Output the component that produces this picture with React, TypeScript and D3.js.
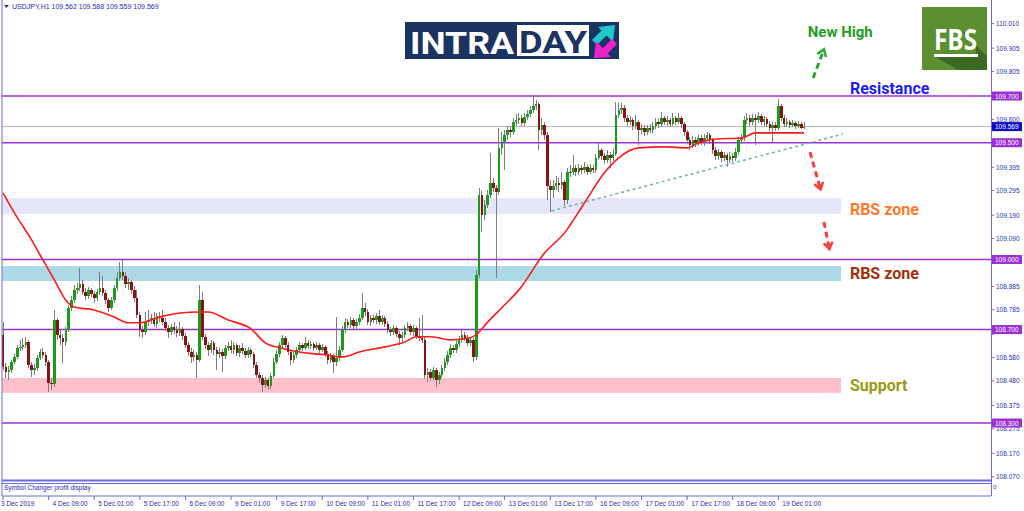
import React from "react";
import * as d3 from "d3";

const W = 1024;
const H = 511;

// USDJPY H1, 3 Dec 17:00 .. 19 Dec 10:00 (open of each bar = close of previous bar)
const firstOpen = 108.678;
const closes = [
  108.540, 108.518, 108.527, 108.561, 108.583, 108.622, 108.626, 108.635, 108.647, 108.549, 108.527, 108.536, 108.579, 108.604, 108.592, 108.561,
  108.472, 108.468, 108.741, 108.678, 108.665, 108.647, 108.699, 108.793, 108.827, 108.870, 108.878, 108.896, 108.861, 108.844, 108.870, 108.853,
  108.836, 108.861, 108.878, 108.857, 108.827, 108.793, 108.827, 108.878, 108.921, 108.947, 108.930, 108.896, 108.904, 108.870, 108.836, 108.763,
  108.699, 108.690, 108.732, 108.741, 108.750, 108.724, 108.758, 108.750, 108.732, 108.707, 108.690, 108.711, 108.699, 108.686, 108.703, 108.673,
  108.635, 108.604, 108.583, 108.592, 108.570, 108.827, 108.669, 108.635, 108.613, 108.643, 108.613, 108.596, 108.604, 108.587, 108.622, 108.630,
  108.613, 108.635, 108.600, 108.622, 108.609, 108.592, 108.613, 108.596, 108.549, 108.506, 108.493, 108.463, 108.485, 108.459, 108.502, 108.561,
  108.596, 108.635, 108.665, 108.635, 108.604, 108.570, 108.592, 108.613, 108.635, 108.622, 108.643, 108.630, 108.639, 108.622, 108.635, 108.613,
  108.626, 108.596, 108.570, 108.587, 108.561, 108.579, 108.613, 108.699, 108.732, 108.720, 108.741, 108.716, 108.732, 108.750, 108.793, 108.775,
  108.732, 108.750, 108.741, 108.758, 108.732, 108.750, 108.724, 108.699, 108.690, 108.707, 108.682, 108.665, 108.678, 108.707, 108.716, 108.690,
  108.707, 108.673, 108.665, 108.656, 108.506, 108.518, 108.493, 108.527, 108.485, 108.506, 108.536, 108.561, 108.592, 108.622, 108.613, 108.639,
  108.656, 108.678, 108.665, 108.643, 108.656, 108.583, 108.934, 109.277, 109.191, 109.234, 109.277, 109.328, 109.307, 109.290, 109.478, 109.503,
  109.533, 109.555, 109.546, 109.589, 109.598, 109.606, 109.585, 109.610, 109.623, 109.640, 109.657, 109.666, 109.555, 109.576, 109.533, 109.315,
  109.298, 109.315, 109.328, 109.319, 109.332, 109.255, 109.375, 109.375, 109.392, 109.375, 109.392, 109.384, 109.396, 109.375, 109.392, 109.384,
  109.435, 109.469, 109.443, 109.426, 109.448, 109.435, 109.452, 109.619, 109.640, 109.649, 109.606, 109.589, 109.598, 109.572, 109.589, 109.555,
  109.563, 109.546, 109.563, 109.555, 109.572, 109.589, 109.581, 109.606, 109.589, 109.598, 109.581, 109.606, 109.589, 109.606, 109.581, 109.546,
  109.512, 109.490, 109.512, 109.499, 109.520, 109.503, 109.520, 109.533, 109.512, 109.469, 109.443, 109.460, 109.435, 109.448, 109.426, 109.443,
  109.435, 109.460, 109.512, 109.520, 109.598, 109.606, 109.589, 109.606, 109.598, 109.615, 109.589, 109.602, 109.581, 109.563, 109.576, 109.563,
  109.657, 109.606, 109.581, 109.589, 109.576, 109.585, 109.572, 109.581, 109.562, 109.569,
];
const highs = [
  108.732, 108.557, 108.544, 108.570, 108.596, 108.635, 108.656, 108.665, 108.669, 108.656, 108.561, 108.553, 108.592, 108.617, 108.622, 108.604,
  108.570, 108.493, 108.784, 108.750, 108.699, 108.682, 108.711, 108.806, 108.844, 108.891, 108.900, 108.964, 108.913, 108.878, 108.883, 108.878,
  108.866, 108.874, 108.947, 108.930, 108.870, 108.836, 108.840, 108.891, 108.947, 108.990, 108.998, 108.947, 108.921, 108.913, 108.887, 108.870,
  108.775, 108.716, 108.775, 108.784, 108.767, 108.775, 108.771, 108.775, 108.784, 108.750, 108.720, 108.724, 108.732, 108.716, 108.732, 108.711,
  108.686, 108.647, 108.622, 108.613, 108.604, 108.891, 108.861, 108.682, 108.647, 108.656, 108.652, 108.626, 108.622, 108.617, 108.635, 108.647,
  108.656, 108.647, 108.643, 108.635, 108.643, 108.622, 108.626, 108.622, 108.604, 108.561, 108.518, 108.506, 108.497, 108.493, 108.514, 108.579,
  108.613, 108.647, 108.678, 108.673, 108.647, 108.613, 108.604, 108.626, 108.647, 108.643, 108.669, 108.656, 108.652, 108.647, 108.647, 108.643,
  108.639, 108.635, 108.609, 108.600, 108.596, 108.754, 108.630, 108.716, 108.750, 108.746, 108.754, 108.750, 108.746, 108.767, 108.857, 108.814,
  108.788, 108.763, 108.763, 108.771, 108.784, 108.763, 108.758, 108.737, 108.711, 108.720, 108.716, 108.694, 108.690, 108.720, 108.732, 108.724,
  108.720, 108.716, 108.750, 108.763, 108.669, 108.536, 108.531, 108.540, 108.536, 108.518, 108.549, 108.579, 108.609, 108.639, 108.635, 108.656,
  108.673, 108.699, 108.690, 108.678, 108.669, 108.665, 108.956, 109.307, 109.298, 109.255, 109.298, 109.456, 109.349, 109.319, 109.563, 109.546,
  109.555, 109.572, 109.568, 109.606, 109.623, 109.627, 109.619, 109.627, 109.640, 109.657, 109.705, 109.683, 109.674, 109.606, 109.589, 109.546,
  109.341, 109.341, 109.358, 109.349, 109.375, 109.341, 109.392, 109.405, 109.448, 109.405, 109.409, 109.405, 109.418, 109.405, 109.409, 109.405,
  109.452, 109.499, 109.478, 109.456, 109.469, 109.460, 109.473, 109.674, 109.674, 109.670, 109.661, 109.619, 109.615, 109.606, 109.619, 109.598,
  109.581, 109.576, 109.576, 109.581, 109.589, 109.606, 109.602, 109.632, 109.615, 109.615, 109.606, 109.627, 109.615, 109.627, 109.615, 109.589,
  109.555, 109.525, 109.529, 109.525, 109.538, 109.533, 109.538, 109.546, 109.542, 109.520, 109.482, 109.473, 109.469, 109.460, 109.456, 109.460,
  109.456, 109.478, 109.525, 109.538, 109.615, 109.627, 109.619, 109.623, 109.623, 109.632, 109.623, 109.615, 109.610, 109.593, 109.589, 109.589,
  109.687, 109.666, 109.619, 109.606, 109.598, 109.598, 109.593, 109.593, 109.589, 109.588,
];
const lows = [
  108.527, 108.493, 108.485, 108.514, 108.553, 108.574, 108.609, 108.613, 108.622, 108.536, 108.497, 108.506, 108.523, 108.570, 108.579, 108.544,
  108.433, 108.442, 108.455, 108.656, 108.635, 108.557, 108.630, 108.690, 108.780, 108.814, 108.853, 108.866, 108.849, 108.827, 108.831, 108.840,
  108.814, 108.823, 108.849, 108.844, 108.810, 108.775, 108.784, 108.814, 108.866, 108.909, 108.913, 108.878, 108.870, 108.853, 108.818, 108.750,
  108.669, 108.665, 108.678, 108.716, 108.724, 108.711, 108.707, 108.732, 108.720, 108.694, 108.665, 108.678, 108.682, 108.669, 108.673, 108.656,
  108.622, 108.587, 108.557, 108.566, 108.493, 108.561, 108.656, 108.617, 108.587, 108.600, 108.592, 108.527, 108.579, 108.518, 108.574, 108.609,
  108.600, 108.596, 108.587, 108.583, 108.596, 108.579, 108.579, 108.583, 108.536, 108.493, 108.472, 108.433, 108.451, 108.442, 108.446, 108.493,
  108.553, 108.583, 108.622, 108.622, 108.592, 108.549, 108.557, 108.579, 108.600, 108.609, 108.613, 108.617, 108.617, 108.609, 108.613, 108.600,
  108.604, 108.583, 108.553, 108.557, 108.514, 108.544, 108.566, 108.604, 108.686, 108.707, 108.707, 108.703, 108.699, 108.720, 108.741, 108.758,
  108.720, 108.716, 108.728, 108.724, 108.720, 108.720, 108.711, 108.686, 108.673, 108.678, 108.669, 108.635, 108.647, 108.665, 108.694, 108.678,
  108.673, 108.660, 108.652, 108.643, 108.489, 108.476, 108.480, 108.485, 108.455, 108.468, 108.493, 108.523, 108.549, 108.579, 108.600, 108.600,
  108.626, 108.643, 108.652, 108.630, 108.630, 108.561, 108.570, 108.921, 109.118, 109.170, 109.221, 109.264, 109.290, 108.921, 109.277, 109.448,
  109.384, 109.512, 109.525, 109.533, 109.572, 109.581, 109.572, 109.572, 109.598, 109.610, 109.627, 109.640, 109.469, 109.533, 109.512, 109.255,
  109.204, 109.264, 109.298, 109.290, 109.302, 109.230, 109.238, 109.354, 109.362, 109.358, 109.362, 109.366, 109.371, 109.362, 109.366, 109.371,
  109.371, 109.426, 109.426, 109.409, 109.413, 109.392, 109.422, 109.443, 109.606, 109.623, 109.589, 109.572, 109.576, 109.555, 109.559, 109.490,
  109.538, 109.529, 109.533, 109.542, 109.542, 109.559, 109.563, 109.568, 109.576, 109.572, 109.568, 109.572, 109.576, 109.581, 109.563, 109.529,
  109.495, 109.469, 109.478, 109.482, 109.486, 109.490, 109.486, 109.508, 109.495, 109.452, 109.426, 109.426, 109.418, 109.422, 109.396, 109.413,
  109.418, 109.422, 109.448, 109.495, 109.508, 109.581, 109.572, 109.576, 109.490, 109.585, 109.576, 109.572, 109.568, 109.550, 109.503, 109.550,
  109.555, 109.593, 109.568, 109.568, 109.563, 109.568, 109.559, 109.563, 109.559, 109.559,
];

// moving average (red), read at bar indices
const maIndex = [0, 4, 10, 14, 18, 22, 25, 32, 39, 44, 48, 55, 62, 69, 72, 79, 87, 92, 97, 104, 113, 119, 125, 134, 141, 145, 150, 157, 164, 166, 170, 176, 181, 190, 197, 204, 211, 216, 223, 232, 240, 244, 250, 259, 264, 271, 281];
const maValue = [109.285, 109.2, 109.084, 108.998, 108.913, 108.827, 108.797, 108.784, 108.754, 108.729, 108.729, 108.754, 108.771, 108.775, 108.775, 108.741, 108.703, 108.643, 108.622, 108.604, 108.592, 108.583, 108.604, 108.626, 108.647, 108.669, 108.669, 108.656, 108.665, 108.678, 108.732, 108.806, 108.87, 109.028, 109.114, 109.243, 109.371, 109.435, 109.478, 109.482, 109.478, 109.499, 109.516, 109.52, 109.542, 109.542, 109.542];

const levels = [109.7, 109.5, 109.0, 108.7, 108.3];
const lastPrice = 109.569;
// ticks whose labels sit under the level boxes keep only their tick mark
const priceTicks = [110.01, 109.905, 109.805, 109.7, 109.6, 109.5, 109.395, 109.295, 109.19, 109.09, 108.99, 108.885, 108.785, 108.68, 108.58, 108.48, 108.375, 108.275, 108.17, 108.07];
const hiddenTickLabels = [109.7, 109.5, 108.99, 108.68];
const timeLabels = ["3 Dec 2019", "4 Dec 09:00", "5 Dec 01:00", "5 Dec 17:00", "6 Dec 09:00", "9 Dec 01:00", "9 Dec 17:00", "10 Dec 09:00", "11 Dec 01:00", "11 Dec 17:00", "12 Dec 09:00", "13 Dec 01:00", "13 Dec 17:00", "16 Dec 09:00", "17 Dec 01:00", "17 Dec 17:00", "18 Dec 09:00", "19 Dec 01:00"];
const barsPerLabel = 16;

const zoneTop = [109.263, 108.972, 108.493];
const zoneBottom = [109.195, 108.908, 108.429];
const zoneColor = ["#e6e6fa", "#add8e6", "#ffc0cb"];

const trendFrom = { i: 192.4, p: 109.208 };
const trendTo = { i: 294.7, p: 109.537 };

const BLUE = "#2a2ab8";
const FRAME = "#6b6bdc";
const PURPLE = "#9b30d6";

export default function App() {
  const x = d3.scaleLinear().domain([0, 281]).range([3, 804]);
  const y = d3.scaleLinear().domain([108.3, 109.7]).range([423, 96]);

  const bars = closes.map((c, i) => {
    const o = i === 0 ? firstOpen : closes[i - 1];
    return { o, c, h: Math.max(highs[i], o, c), l: Math.min(lows[i], o, c) };
  });

  const ma = d3
    .line<number>()
    .x((_, k) => x(maIndex[k]))
    .y((v) => y(v))
    .curve(d3.curveMonotoneX)(maValue);

  const arrow = (i0: number, p0: number, i1: number, p1: number, color: string, key: string) => {
    const x0 = x(i0), y0 = y(p0), x1 = x(i1), y1 = y(p1);
    const a = Math.atan2(y1 - y0, x1 - x0);
    const hl = 8;
    const h1 = [x1 - hl * Math.cos(a - 0.6), y1 - hl * Math.sin(a - 0.6)];
    const h2 = [x1 - hl * Math.cos(a + 0.6), y1 - hl * Math.sin(a + 0.6)];
    return (
      <g key={key} stroke={color} strokeWidth={3} fill="none">
        <line x1={x0} y1={y0} x2={x1 - 3 * Math.cos(a)} y2={y1 - 3 * Math.sin(a)} strokeDasharray="6,4" />
        <polyline points={`${h1[0]},${h1[1]} ${x1},${y1} ${h2[0]},${h2[1]}`} strokeWidth={2.5} />
      </g>
    );
  };

  const font = "'Liberation Sans', Arial, sans-serif";

  return (
    <svg width={W} height={H} style={{ position: "absolute", left: 0, top: 0, background: "#fff" }}>
      <rect width={W} height={H} fill="#fff" />

      {/* zones */}
      {zoneTop.map((t, k) => (
        <rect key={k} x={x(-0.3)} y={y(t)} width={x(294) - x(-0.3)} height={y(zoneBottom[k]) - y(t)} fill={zoneColor[k]} />
      ))}

      {/* horizontal levels */}
      {levels.map((lv) => (
        <line key={lv} x1={2} x2={991} y1={y(lv)} y2={y(lv)} stroke={PURPLE} strokeWidth={1.5} />
      ))}
      <line x1={2} x2={991} y1={y(lastPrice)} y2={y(lastPrice)} stroke="#b4b4b4" strokeWidth={1} />

      {/* candles */}
      <g shapeRendering="crispEdges">
        {bars.map((b, i) => {
          const cx = x(i);
          const up = b.c >= b.o;
          const top = y(Math.max(b.o, b.c));
          const bot = y(Math.min(b.o, b.c));
          return (
            <g key={i}>
              <line x1={cx} x2={cx} y1={y(b.h)} y2={y(b.l)} stroke="#7d7d7d" strokeWidth={1} />
              <rect x={cx - 1.2} y={top} width={2.6} height={Math.max(1, bot - top)} fill={up ? "#1c9a1c" : "#8a1212"} />
            </g>
          );
        })}
      </g>

      {/* moving average */}
      <path d={ma || ""} fill="none" stroke="#ff1a1a" strokeWidth={1.6} />

      {/* trend line */}
      <line x1={x(trendFrom.i)} y1={y(trendFrom.p)} x2={x(trendTo.i)} y2={y(trendTo.p)} stroke="#74aeb4" strokeWidth={1.5} strokeDasharray="3,3" />

      {/* arrows */}
      {arrow(284.2, 109.777, 288.0, 109.9, "#2ea82e", "g")}
      {arrow(283.1, 109.46, 286.8, 109.3, "#ff3a3a", "r1")}
      {arrow(288.0, 109.161, 289.9, 109.045, "#ff3a3a", "r2")}

      {/* annotation texts */}
      <g fontFamily="Roboto, sans-serif" fontWeight={700} dominantBaseline="central">
        <text x={x(282.3)} y={y(109.974)} fontSize={15} fill="#1e9e1e">New High</text>
        <text x={x(297.1)} y={y(109.734)} fontSize={16} fill="#1c1cf0">Resistance</text>
        <text x={x(297.1)} y={y(109.212)} fontSize={16} fill="#ff7a2a">RBS zone</text>
        <text x={x(297.1)} y={y(108.942)} fontSize={16} fill="#a5300c">RBS zone</text>
        <text x={x(297.1)} y={y(108.459)} fontSize={16} fill="#9a9a10">Support</text>
      </g>

      {/* INTRADAY logo */}
      <g>
        <rect x={405} y={22} width={214} height={37} fill="#1b3360" />
        <text x={410} y={54} fontFamily="Roboto, sans-serif" fontWeight={700} fontSize={32} fill="#fff" textLength={104} lengthAdjust="spacingAndGlyphs">INTRA</text>
        <rect x={517} y={25} width={72} height={31} fill="#fff" />
        <text x={519} y={53} fontFamily="Roboto, sans-serif" fontWeight={700} fontSize={32} fill="#1b3360" textLength={68} lengthAdjust="spacingAndGlyphs">DAY</text>
        <polygon points="592,40 597,45 607,35 602,30" fill="#1ec8cc" />
        <polygon points="598,27 615,25 613,42" fill="#1ec8cc" />
        <polygon points="617,44 612,39 602,49 607,54" fill="#ee22cc" />
        <polygon points="611,57 594,58 596,41" fill="#ee22cc" />
      </g>

      {/* FBS logo */}
      <g>
        <rect x={922} y={7} width={65} height={63} fill="#5b8f32" />
        <polygon points="960,30 987,56 987,70 958,70 934,56 976,56 976,40" fill="#3d6a21" />
        <text x={934} y={50} fontFamily="'Open Sans', sans-serif" fontWeight={700} fontSize={28} fill="#fff" textLength={43} lengthAdjust="spacingAndGlyphs">FBS</text>
        <rect x={934} y={54} width={44} height={3} fill="#fff" />
      </g>

      {/* header */}
      <g fontFamily={font} fontSize={7} fill={BLUE}>
        <polygon points="4,5 9,5 6.5,8" fill={BLUE} />
        <text x={12} y={9}>USDJPY,H1  109.562 109.588 109.559 109.569</text>
      </g>

      {/* frame and separators */}
      <g fill="none" stroke={FRAME}>
        <line x1={2} x2={2} y1={0} y2={496} strokeWidth={1} />
        <line x1={991.5} x2={991.5} y1={0} y2={496} strokeWidth={1} />
        <line x1={2} x2={991} y1={480.5} y2={480.5} strokeWidth={2} />
        <line x1={2} x2={991} y1={483.5} y2={483.5} strokeWidth={1} />
        <line x1={2} x2={991} y1={496} y2={496} strokeWidth={1} />
      </g>
      <text x={4} y={490} fontFamily={font} fontSize={6.5} fill={BLUE}>Symbol Changer profit display</text>
      <text x={993} y={489} fontFamily={font} fontSize={6} fill={BLUE}>0</text>

      {/* price axis */}
      <g fontFamily={font} fontSize={6.5} fill={BLUE}>
        {priceTicks.map((t) => (
          <g key={t}>
            <line x1={991} x2={994} y1={y(t)} y2={y(t)} stroke={FRAME} />
            {hiddenTickLabels.includes(t) ? null : <text x={996} y={y(t) + 2.5}>{t.toFixed(3)}</text>}
          </g>
        ))}
      </g>
      <g fontFamily={font} fontSize={6.5}>
        {levels.map((lv) => (
          <g key={lv}>
            <rect x={992} y={y(lv) - 4.5} width={30} height={9} fill={PURPLE} />
            <text x={995} y={y(lv) + 2.5} fill="#fff">{lv.toFixed(3)}</text>
          </g>
        ))}
        <rect x={992} y={y(lastPrice) - 4.5} width={30} height={9} fill="#0a0ac8" />
        <text x={995} y={y(lastPrice) + 2.5} fill="#fff">{lastPrice.toFixed(3)}</text>
      </g>

      {/* time axis */}
      <g fontFamily={font} fontSize={6.5} fill={BLUE}>
        {timeLabels.map((lab, k) => {
          const tx = x(k * barsPerLabel);
          return (
            <g key={lab}>
              <line x1={tx} x2={tx} y1={496} y2={500} stroke={FRAME} />
              <text x={k === 0 ? 1 : tx + 4} y={506}>{lab}</text>
            </g>
          );
        })}
      </g>
    </svg>
  );
}
